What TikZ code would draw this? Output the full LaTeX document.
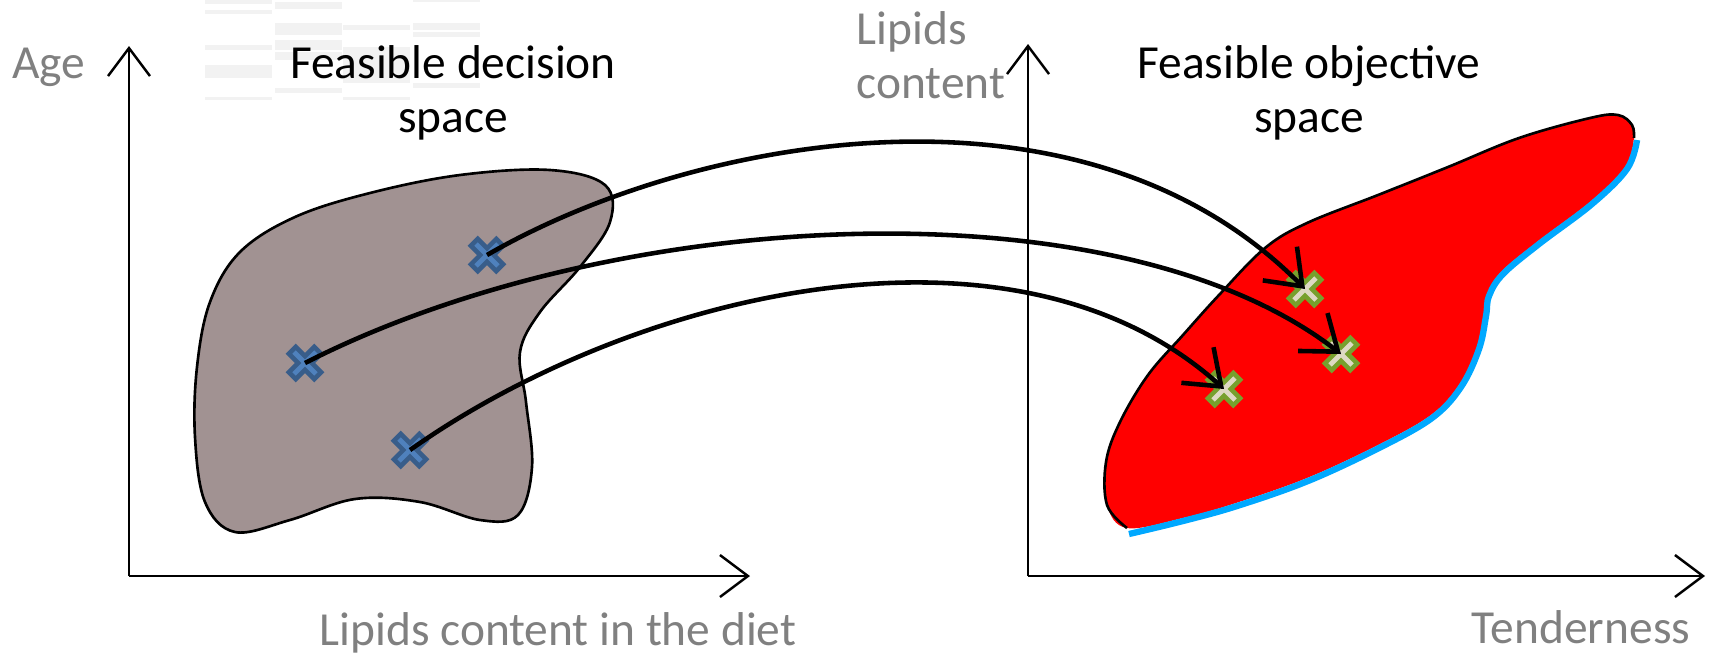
\documentclass[tikz,border=0pt]{standalone}
\usepackage{fontspec}
\setmainfont{Carlito}
\definecolor{blobgray}{RGB}{161,146,146}
\definecolor{blobred}{RGB}{255,0,0}
\definecolor{edgeblue}{RGB}{0,168,255}
\definecolor{lblgray}{RGB}{128,128,128}
\definecolor{xblue}{RGB}{79,129,189}
\definecolor{xbluedark}{RGB}{56,93,138}
\definecolor{xgreen}{RGB}{119,160,45}
\definecolor{xcream}{RGB}{221,217,195}
\definecolor{faint}{RGB}{242,242,242}
\usetikzlibrary{arrows.meta}
\tikzset{
  axisline/.style={line width=0.7pt,-{Straight Barb[length=2.8mm,width=4.2mm]}},
  maparrow/.style={line width=1.3pt,-{Straight Barb[length=3.2mm,width=4.8mm]}},
  axlabel/.style={text=lblgray,font=\fontsize{13.5}{15.5}\selectfont,inner sep=0pt},
  spacetitle/.style={align=center,font=\fontsize{13.5}{15.5}\selectfont,inner sep=0pt},
  xcross/.pic={
    \draw[rotate=45,pic actions] (0.048,0.18) -- (0.048,0.048) -- (0.18,0.048) -- (0.18,-0.048)
      -- (0.048,-0.048) -- (0.048,-0.18) -- (-0.048,-0.18) -- (-0.048,-0.048) -- (-0.18,-0.048)
      -- (-0.18,0.048) -- (-0.048,0.048) -- (-0.048,0.18) -- cycle;
  }
}

\begin{document}
\begin{tikzpicture}
  \useasboundingbox (0,0) rectangle (17.10,6.57);
  % Faint stripes behind the left title
  \foreach \xa/\ya/\yb in {2.05/6.53/6.57, 2.05/6.43/6.47, 2.05/6.07/6.12, 2.05/5.79/5.92, 2.05/5.57/5.60,
      2.75/6.48/6.55, 2.75/6.22/6.34, 2.75/6.07/6.17, 2.75/5.97/6.05, 2.75/5.64/5.69,
      3.43/6.27/6.32, 3.43/5.74/6.10, 3.43/5.57/5.60,
      4.13/6.55/6.57, 4.13/6.27/6.34, 4.13/6.20/6.25, 4.13/5.69/5.74}
    \fill[faint] (\xa,\ya) rectangle ++(0.67,\yb-\ya);
  % Axes
  \coordinate (dO) at (1.29,0.81);
  \coordinate (oO) at (10.28,0.81);
  \draw[axisline] (dO) -- (1.29,6.11);
  \draw[axisline] (dO) -- (7.50,0.81);
  \draw[axisline] (oO) -- (10.28,6.13);
  \draw[axisline] (oO) -- (17.05,0.81);
  % Decision space region
  \draw[line width=0.75pt,fill=blobgray] plot[smooth cycle,tension=0.6] coordinates {
    (5.50,4.87) (4.60,4.82) (3.70,4.64) (2.95,4.40) (2.40,4.05) (2.10,3.55) (1.97,2.90)
    (1.95,2.20) (2.05,1.55) (2.35,1.25) (2.90,1.37) (3.55,1.58) (4.20,1.55) (4.80,1.37)
    (5.18,1.42) (5.32,1.90) (5.26,2.55) (5.20,3.05) (5.40,3.45) (5.80,3.90) (6.10,4.35)
    (6.05,4.72)};
  % Objective space region
  \fill[blobred] plot[smooth cycle,tension=0.6] coordinates {
    (11.27,1.29) (11.07,1.52) (11.06,1.95) (11.20,2.35) (11.48,2.82) (11.83,3.22) (12.19,3.62)
    (12.65,4.09) (13.07,4.34) (13.78,4.62) (14.48,4.90) (15.19,5.19) (15.90,5.39) (16.18,5.42)
    (16.32,5.32) (16.34,5.19) (16.25,4.89) (15.90,4.55) (15.37,4.15) (15.01,3.85) (14.87,3.62)
    (14.84,3.42) (14.77,3.09) (14.59,2.72) (14.31,2.42) (13.78,2.12) (13.07,1.79) (12.36,1.54)
    (11.83,1.39)};
  \draw[line width=0.75pt] plot[smooth,tension=0.6] coordinates {
    (11.27,1.29) (11.07,1.52) (11.06,1.95) (11.20,2.35) (11.48,2.82) (11.83,3.22) (12.19,3.62)
    (12.65,4.09) (13.07,4.34) (13.78,4.62) (14.48,4.90) (15.19,5.19) (15.90,5.39) (16.18,5.42)
    (16.32,5.32) (16.34,5.19)};
  \draw[edgeblue,line width=1.8pt] plot[smooth,tension=0.6] coordinates {
    (16.37,5.17) (16.27,4.88) (15.92,4.53) (15.39,4.13) (15.03,3.83) (14.89,3.61) (14.86,3.41)
    (14.79,3.08) (14.61,2.70) (14.32,2.39) (13.79,2.09) (13.08,1.76) (12.37,1.51) (11.83,1.36)
    (11.29,1.23)};
  % Points
  \coordinate (dA) at (4.87,4.02);
  \coordinate (dB) at (3.05,2.94);
  \coordinate (dC) at (4.10,2.07);
  \coordinate (oA) at (13.05,3.68);
  \coordinate (oB) at (13.41,3.03);
  \coordinate (oC) at (12.24,2.68);
  \foreach \p in {dA,dB,dC}
    \pic[fill=xblue,draw=xbluedark,line width=1.3pt] at (\p) {xcross};
  \foreach \p in {oA,oB,oC}
    \pic[fill=xcream,draw=xgreen,line width=1.3pt] at (\p) {xcross};
  % Mapping arrows
  \draw[maparrow] (dA) .. controls (6.93,5.21) and (10.82,5.94) .. (oA);
  \draw[maparrow] (dB) .. controls (6.17,4.53) and (11.20,4.75) .. (oB);
  \draw[maparrow] (dC) .. controls (6.38,3.68) and (10.17,4.55) .. (oC);
  % Labels
  \node[axlabel] (age) at (0.49,5.90) {Age};
  \node[axlabel] (diet) at (5.58,0.24) {Lipids content in the diet};
  \node[axlabel,align=left,anchor=west] (lipids) at (8.56,6.02) {Lipids\\content};
  \node[axlabel] (tend) at (15.81,0.30) {Tenderness};
  \node[spacetitle] (dtitle) at (4.53,5.64) {Feasible decision\\space};
  \node[spacetitle] (otitle) at (13.09,5.64) {Feasible objective\\space};
\end{tikzpicture}
\end{document}
